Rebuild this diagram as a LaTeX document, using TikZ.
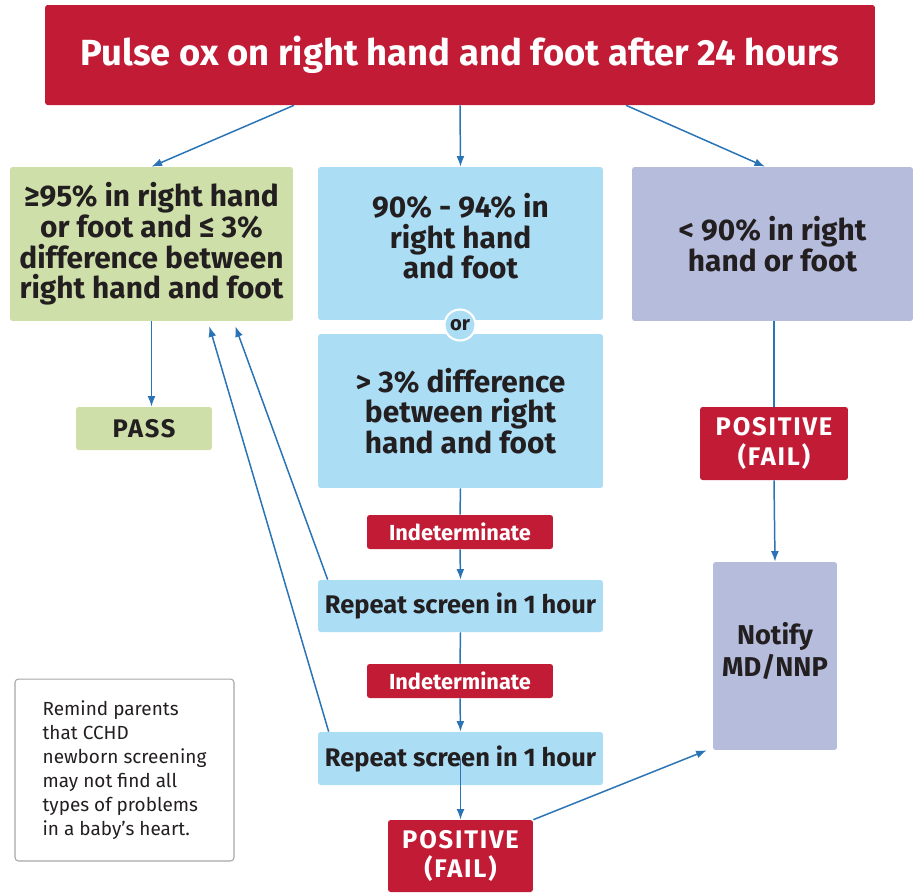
\documentclass[tikz,border=0pt]{standalone}
\usepackage{fontspec}
\setmainfont{Fira Sans}
\usetikzlibrary{arrows.meta,calc}

\definecolor{alertred}{HTML}{C11B36}
\definecolor{passgreen}{HTML}{CFDFA9}
\definecolor{screenblue}{HTML}{ABDDF5}
\definecolor{failpurple}{HTML}{B6BCDC}
\definecolor{flowblue}{HTML}{2A74B6}
\definecolor{ink}{HTML}{231F20}

\begin{document}
\begin{tikzpicture}[
            x=0.02cm, y=-0.02cm,
            box/.style={rectangle, rounded corners=1.5pt, inner sep=0pt, align=center, text=ink},
            redbox/.style={box, fill=alertred, text=white},
            greenbox/.style={box, fill=passgreen},
            bluebox/.style={box, fill=screenblue},
            purplebox/.style={box, fill=failpurple},
            bigtext/.style={font=\fontsize{17}{17.4}\selectfont\bfseries},
            midtext/.style={font=\fontsize{14.5}{17}\selectfont\bfseries},
            capstext/.style={font=\fontsize{14.5}{17}\selectfont\bfseries\addfontfeature{LetterSpace=7}},
            tagtext/.style={font=\fontsize{12.4}{14}\selectfont\bfseries},
            flow/.style={draw=flowblue, line width=0.85pt, -{Latex[length=6pt,width=4.5pt]}},
            link/.style={draw=flowblue, line width=0.85pt}
            ]
            \useasboundingbox (0,0) rectangle (913,894);

            % top row
            \node[redbox, minimum width=16.6cm, minimum height=2cm,
                  font=\fontsize{20.7}{24}\selectfont\bfseries] (start) at (460,55)
                  {Pulse ox on right hand and foot after 24 hours};
            \node[greenbox, bigtext, minimum width=5.66cm, minimum height=3.08cm] (high) at (151.5,244)
                  {≥95\% in right hand\\or foot and ≤ 3\%\\difference between\\right hand and foot};
            \node[bluebox, bigtext, minimum width=5.7cm, minimum height=3.06cm] (mid) at (460.5,243.5)
                  {90\% - 94\% in\\right hand\\and foot\\[-0.31cm]};
            \node[bluebox, bigtext, minimum width=5.7cm, minimum height=3.08cm] (diff) at (460.5,411)
                  {> 3\% difference\\between right\\hand and foot};
            \node[circle, fill=screenblue, draw=white, line width=1.2pt, minimum size=0.62cm,
                  inner sep=0pt, text=ink, font=\fontsize{11.5}{13}\selectfont\bfseries] (or) at (460,325) {or};
            \node[purplebox, bigtext, minimum width=5.62cm, minimum height=3.08cm] (low) at (772.5,244)
                  {< 90\% in right\\hand or foot};

            % outcomes
            \node[greenbox, capstext, minimum width=2.72cm, minimum height=0.86cm] (pass) at (144,428.5) {PASS};
            \node[redbox, capstext, minimum width=2.96cm, minimum height=1.46cm] (failR) at (774,443.5)
                  {POSITIVE\\(FAIL)};
            \node[purplebox, font=\fontsize{15.5}{18}\selectfont\bfseries, minimum width=2.48cm,
                  minimum height=3.76cm] (notify) at (775,656)
                  {Notify\\MD/NNP\\[-0.37cm]};

            % repeat screens
            \node[redbox, tagtext, minimum width=3.72cm, minimum height=0.68cm] (indA) at (460,532) {Indeterminate};
            \node[bluebox, midtext, minimum width=5.7cm, minimum height=1.04cm] (repA) at (460.5,606)
                  {Repeat screen in 1 hour};
            \node[redbox, tagtext, minimum width=3.72cm, minimum height=0.68cm] (indB) at (460,681) {Indeterminate};
            \node[bluebox, midtext, minimum width=5.7cm, minimum height=1.06cm] (repB) at (460.5,758.5)
                  {Repeat screen in 1 hour};
            \node[redbox, capstext, minimum width=2.9cm, minimum height=1.44cm] (failB) at (460.5,856)
                  {POSITIVE\\(FAIL)};

            % reminder
            \node[draw=black!35, line width=0.6pt, rounded corners=2pt, minimum width=4.38cm,
                  minimum height=3.64cm, align=left, text=ink,
                  font=\fontsize{10.8}{13.6}\selectfont] (note) at (124.5,770)
                  {Remind parents\\that CCHD\\newborn screening\\may not find all\\types of problems\\in a baby’s heart.};

            % connectors
            \draw[flow] ($(start.south west)!0.3!(start.south east)$) -- (high.north);
            \draw[flow] (start.south) -- (mid.north);
            \draw[flow] ($(start.south west)!0.7!(start.south east)$) -- ([xshift=-0.15cm]low.north);
            \draw[flow] (high.south) -- (high.south |- pass.north);
            \draw[link] (failR.north |- low.south) -- (failR.north);
            \draw[flow] (failR.south) -- (notify.north);
            \draw[link] (diff.south) -- (indA.north);
            \draw[flow] (indA.south) -- (repA.north);
            \draw[link] (repA.south) -- (indB.north);
            \draw[flow] (indB.south) -- (repB.north);
            \draw[flow] (repB.center) -- (failB.north);
            \draw[flow] (failB.north east) -- ([xshift=-0.12cm]notify.south west);
            \draw[flow] ([xshift=0.2cm]repA.north west) -- ([shift={(-1.16cm,-0.1cm)}]high.south east);
            \draw[flow] ([xshift=0.22cm]repB.north west) -- ([shift={(-1.68cm,-0.1cm)}]high.south east);
\end{tikzpicture}
\end{document}
